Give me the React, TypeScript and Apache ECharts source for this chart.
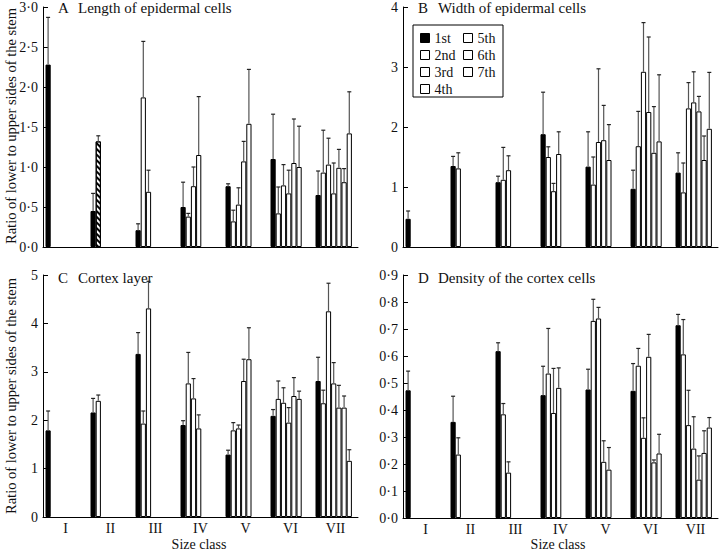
import React, { useEffect, useRef } from 'react';
import * as echarts from 'echarts';

const sizeClasses = ['I', 'II', 'III', 'IV', 'V', 'VI', 'VII'];
const internodes = ['1st', '2nd', '3rd', '4th', '5th', '6th', '7th'];

// A  Length of epidermal cells (mean, SE) per size class, internodes 1st..kth
const lengthMean = [
  [2.28],
  [0.45, 1.32],
  [0.21, 1.87, 0.69],
  [0.5, 0.38, 0.76, 1.15],
  [0.76, 0.32, 0.53, 1.07, 1.54],
  [1.1, 0.42, 0.77, 0.67, 1.05, 1.0],
  [0.65, 0.93, 1.03, 0.67, 0.99, 0.81, 1.42],
];
const lengthSE = [
  [0.59],
  [0.22, 0.07],
  [0.08, 0.7, 0.27],
  [0.31, 0.04, 0.24, 0.73],
  [0.03, 0.14, 0.21, 0.25, 0.68],
  [0.56, 0.33, 0.26, 0.29, 0.55, 0.51],
  [0.3, 0.53, 0.33, 0.38, 0.23, 0.17, 0.52],
];

// B  Width of epidermal cells
const widthMean = [
  [0.47],
  [1.35, 1.31],
  [1.08, 1.12, 1.28],
  [1.88, 1.5, 0.93, 1.55],
  [1.34, 1.04, 1.75, 1.78, 1.45],
  [0.97, 1.68, 2.92, 2.25, 1.57, 1.76],
  [1.24, 0.91, 2.31, 2.41, 2.26, 1.45, 1.97],
];
const widthSE = [
  [0.13],
  [0.16, 0.26],
  [0.1, 0.54, 0.24],
  [0.7, 0.17, 0.13, 0.37],
  [0.58, 0.46, 1.22, 0.58, 0.59],
  [0.31, 0.58, 0.82, 1.25, 0.77, 1.11],
  [0.33, 0.49, 0.43, 0.51, 0.25, 0.4, 0.94],
];

// C  Cortex layer
const cortexMean = [
  [1.79],
  [2.16, 2.4],
  [3.37, 1.93, 4.31],
  [1.9, 2.76, 2.45, 1.83],
  [1.29, 1.79, 1.83, 2.81, 3.26],
  [2.09, 2.44, 2.36, 1.95, 2.5, 2.44],
  [2.81, 2.35, 4.25, 2.76, 2.26, 2.26, 1.16],
];
const cortexSE = [
  [0.4],
  [0.29, 0.12],
  [0.44, 0.26, 0.56],
  [0.09, 0.64, 0.41, 0.28],
  [0.09, 0.16, 0.07, 0.45, 0.65],
  [0.13, 0.37, 0.31, 0.31, 0.38, 0.16],
  [0.49, 0.27, 0.58, 0.43, 0.46, 0.24, 0.23],
];

// D  Density of the cortex cells
const densityMean = [
  [0.473],
  [0.356, 0.235],
  [0.618, 0.384, 0.168],
  [0.455, 0.535, 0.389, 0.482],
  [0.476, 0.73, 0.739, 0.208, 0.179],
  [0.471, 0.564, 0.297, 0.597, 0.206, 0.239],
  [0.714, 0.606, 0.344, 0.257, 0.142, 0.241, 0.335],
];
const densitySE = [
  [0.071],
  [0.095, 0.062],
  [0.031, 0.04, 0.04],
  [0.107, 0.167, 0.165, 0.074],
  [0.075, 0.08, 0.041, 0.078, 0.082],
  [0.101, 0.064, 0.074, 0.083, 0.009, 0.071],
  [0.04, 0.129, 0.129, 0.118, 0.088, 0.082, 0.037],
];

const FONT = '"Liberation Serif", "Times New Roman", serif';
const BAR_W = 5.2;
const SPACER_W = 3.6;
const TOTAL_W = BAR_W * 7 + SPACER_W;

const panels = [
  { mean: lengthMean, se: lengthSE, max: 3, interval: 0.5, dec: true, letter: 'A', title: 'Length of epidermal cells', grid: { left: 43, top: 5, width: 315, height: 242 }, labels: false },
  { mean: widthMean, se: widthSE, max: 4, interval: 1, dec: false, letter: 'B', title: 'Width of epidermal cells', grid: { left: 403, top: 5, width: 315, height: 242 }, labels: false },
  { mean: cortexMean, se: cortexSE, max: 5, interval: 1, dec: false, letter: 'C', title: 'Cortex layer', grid: { left: 43, top: 275, width: 315, height: 242 }, labels: true },
  { mean: densityMean, se: densitySE, max: 0.9, interval: 0.1, dec: true, letter: 'D', title: 'Density of the cortex cells', grid: { left: 403, top: 275, width: 315, height: 243 }, labels: true },
];

function buildOption() {
  const grid: any[] = [];
  const xAxis: any[] = [];
  const yAxis: any[] = [];
  const series: any[] = [];
  const graphic: any[] = [];

  panels.forEach((p, pi) => {
    grid.push({ ...p.grid, containLabel: false });
    xAxis.push({
      type: 'category',
      gridIndex: pi,
      data: sizeClasses,
      axisLine: { lineStyle: { color: '#000', width: 1 } },
      axisTick: { inside: true, length: 4, lineStyle: { color: '#000' } },
      axisLabel: { show: p.labels, color: '#111', fontFamily: FONT, fontSize: 14, margin: 4 },
      splitLine: { show: false },
    });
    yAxis.push({
      type: 'value',
      gridIndex: pi,
      min: 0,
      max: p.max,
      interval: p.interval,
      axisLine: { show: true, lineStyle: { color: '#000', width: 1 } },
      axisTick: { show: true, inside: true, length: 5, lineStyle: { color: '#000' } },
      axisLabel: {
        color: '#111',
        fontFamily: FONT,
        fontSize: 14,
        margin: 5,
        formatter: (v: number) => (p.dec ? v.toFixed(1).replace('.', '\u00b7') : String(Math.round(v))),
      },
      splitLine: { show: false },
    });

    for (let s = 0; s < 7; s++) {
      const data = p.mean.map((g, gi) => {
        const v = g[s];
        if (v === undefined) return null;
        if (pi === 0 && gi === 1 && s === 1) {
          return {
            value: v,
            itemStyle: {
              color: '#fff',
              decal: {
                symbol: 'rect',
                symbolSize: 1,
                dashArrayX: [[1, 0]],
                dashArrayY: [1.4, 1.4],
                rotation: Math.PI / 4,
                color: '#000',
              },
            },
          };
        }
        return v;
      });
      series.push({
        type: 'bar',
        name: internodes[s],
        xAxisIndex: pi,
        yAxisIndex: pi,
        barWidth: BAR_W,
        barGap: '0%',
        data,
        itemStyle: {
          color: s === 0 ? '#000' : '#fff',
          borderColor: '#000',
          borderWidth: 1,
        },
        emphasis: { disabled: true },
      });
    }
    series.push({
      type: 'bar',
      name: 'spacer' + pi,
      xAxisIndex: pi,
      yAxisIndex: pi,
      barWidth: SPACER_W,
      barGap: '0%',
      data: sizeClasses.map(() => null),
      silent: true,
    });

    const errData: number[][] = [];
    p.mean.forEach((g, gi) => {
      g.forEach((m, si) => {
        errData.push([gi, si, m, m + p.se[gi][si]]);
      });
    });
    series.push({
      type: 'custom',
      name: 'err' + pi,
      xAxisIndex: pi,
      yAxisIndex: pi,
      z: 5,
      silent: true,
      encode: { x: 0, y: 3 },
      data: errData,
      renderItem: (params: any, api: any) => {
        const gi = api.value(0);
        const si = api.value(1);
        const m = api.value(2);
        const u = api.value(3);
        const base = api.coord([gi, m]);
        const top = api.coord([gi, u]);
        const x = base[0] - TOTAL_W / 2 + si * BAR_W + BAR_W / 2;
        return {
          type: 'group',
          children: [
            { type: 'line', shape: { x1: x, y1: base[1], x2: x, y2: top[1] }, style: { stroke: '#555', lineWidth: 1.2 } },
            { type: 'line', shape: { x1: x - 2, y1: top[1], x2: x + 2, y2: top[1] }, style: { stroke: '#222', lineWidth: 1.2 } },
          ],
        };
      },
    });

    const tx = p.grid.left + 15;
    const ty = p.grid.top + 3;
    graphic.push({ type: 'text', x: tx, y: ty, style: { text: p.letter, font: `15px ${FONT}`, fill: '#111', textVerticalAlign: 'middle' } });
    graphic.push({ type: 'text', x: tx + 20, y: ty, style: { text: p.title, font: `15px ${FONT}`, fill: '#111', textVerticalAlign: 'middle' } });
  });

  // y-axis titles
  graphic.push({ type: 'text', x: 11, y: 126, rotation: Math.PI / 2, style: { text: 'Ratio of lower to upper sides of the stem', font: `14.5px ${FONT}`, fill: '#111', textAlign: 'center', textVerticalAlign: 'middle' } });
  graphic.push({ type: 'text', x: 11, y: 396, rotation: Math.PI / 2, style: { text: 'Ratio of lower to upper sides of the stem', font: `14.5px ${FONT}`, fill: '#111', textAlign: 'center', textVerticalAlign: 'middle' } });
  // x-axis titles
  graphic.push({ type: 'text', x: 199, y: 544, style: { text: 'Size class', font: `14px ${FONT}`, fill: '#111', textAlign: 'center', textVerticalAlign: 'middle' } });
  graphic.push({ type: 'text', x: 558, y: 544, style: { text: 'Size class', font: `14px ${FONT}`, fill: '#111', textAlign: 'center', textVerticalAlign: 'middle' } });
  // legend frame
  graphic.push({ type: 'rect', shape: { x: 413, y: 25, width: 90, height: 72 }, style: { fill: 'none', stroke: '#000', lineWidth: 1 } });

  const legendItem = (n: string, i: number) => ({
    name: n,
    itemStyle: { color: i === 0 ? '#000' : '#fff', borderColor: '#000', borderWidth: 1 },
  });
  const legendCommon = {
    orient: 'vertical',
    icon: 'rect',
    itemWidth: 9,
    itemHeight: 9,
    itemGap: 3,
    padding: 0,
    selectedMode: false,
    textStyle: { fontFamily: FONT, fontSize: 14, color: '#111', lineHeight: 14 },
  };

  return {
    animation: false,
    backgroundColor: '#fff',
    grid,
    xAxis,
    yAxis,
    series,
    graphic,
    legend: [
      { ...legendCommon, left: 420, top: 31, data: internodes.slice(0, 4).map((n, i) => legendItem(n, i)) },
      { ...legendCommon, left: 463, top: 31, data: internodes.slice(4).map((n, i) => legendItem(n, i + 4)) },
    ],
  };
}

export default function App() {
  const ref = useRef<HTMLDivElement>(null);
  useEffect(() => {
    const chart = echarts.init(ref.current!, null, { renderer: 'svg' });
    chart.setOption(buildOption() as any);
    return () => chart.dispose();
  }, []);
  return (
    <div
      ref={ref}
      style={{ position: 'absolute', left: 0, top: 0, width: 720, height: 554, background: '#fff' }}
    />
  );
}
